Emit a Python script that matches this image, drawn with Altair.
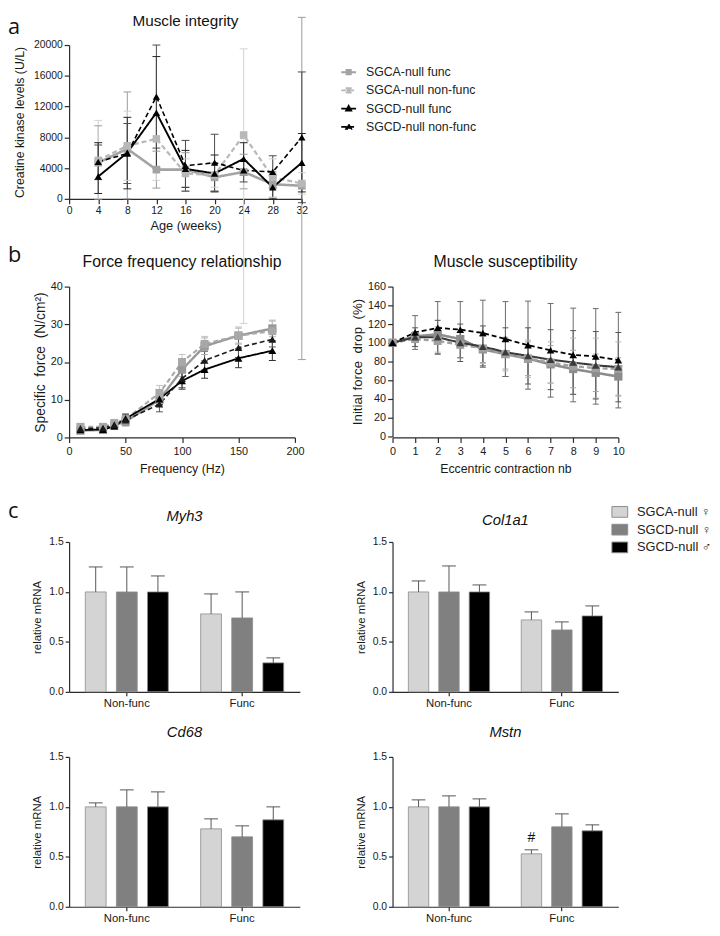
import altair as alt
import pandas as pd

FONT = "Liberation Sans"
LETTER_FONT = "Open Sans"

# ---------------- shared series ----------------
series_names = ["SGCA-null func", "SGCA-null non-func", "SGCD-null func", "SGCD-null non-func"]

# ---------------- Panel a: creatine kinase ----------------
age_weeks = [4, 8, 12, 16, 20, 24, 28, 32]
age_ticks = [0, 4, 8, 12, 16, 20, 24, 28, 32]
ck_ticks = [0, 4000, 8000, 12000, 16000, 20000]
ck_sgca_func = [4700, 6500, 3800, 3800, 2800, 3500, 1900, 1700]
ck_sgca_nonfunc = [5000, 6900, 7800, 3300, 3100, 8300, 2800, 2000]
ck_sgcd_func = [2900, 6000, 11200, 3900, 3300, 5200, 1500, 4700]
ck_sgcd_nonfunc = [4800, 5900, 13300, 4300, 4700, 3700, 3500, 8000]
ck_low_sgca_func = [0, 0, 1400, 1000, 1000, 1300, 200, -20900]
ck_high_sgca_func = [9500, 13900, 6200, 6000, 4600, 5800, 3500, 23600]
ck_low_sgca_nonfunc = [0, 2400, 2400, 1500, 1500, -16200, 200, 600]
ck_high_sgca_nonfunc = [10200, 11400, 11000, 5200, 4700, 19500, 5200, 3400]
ck_low_sgcd_func = [700, 1300, 4000, 1500, 900, 3100, 0, 900]
ck_high_sgcd_func = [7300, 10600, 18500, 6300, 5700, 7300, 3000, 8500]
ck_low_sgcd_nonfunc = [2500, 2000, 6600, 1000, 1000, 2200, 1400, -500]
ck_high_sgcd_nonfunc = [7000, 9800, 20000, 7600, 8400, 4900, 5600, 16500]

# ---------------- Panel b left: force frequency ----------------
freq_hz = [10, 30, 40, 50, 80, 100, 120, 150, 180]
freq_ticks = [0, 50, 100, 150, 200]
force_ticks = [0, 10, 20, 30, 40]
ff_sgca_func = [1.8, 2.0, 3.2, 4.2, 10.0, 18.0, 24.2, 27.0, 28.9]
ff_sgca_nonfunc = [2.8, 2.8, 3.8, 4.8, 11.8, 20.0, 24.8, 27.0, 28.2]
ff_sgcd_func = [2.0, 2.1, 3.0, 5.0, 10.2, 15.0, 18.0, 21.0, 23.0]
ff_sgcd_nonfunc = [2.4, 2.5, 3.4, 4.6, 8.8, 15.6, 20.4, 23.8, 26.0]
ff_err_sgca_func = [0.5, 0.5, 0.8, 1.2, 1.6, 1.8, 2.2, 2.0, 2.2]
ff_err_sgca_nonfunc = [0.7, 0.6, 1.0, 1.4, 2.0, 2.0, 2.0, 2.3, 2.6]
ff_err_sgcd_func = [0.4, 0.5, 0.8, 1.2, 1.5, 2.2, 2.3, 2.5, 2.6]
ff_err_sgcd_nonfunc = [0.5, 0.5, 0.9, 1.3, 2.0, 2.4, 2.5, 2.6, 2.0]

# ---------------- Panel b right: eccentric contractions ----------------
ecc_nb = [0, 1, 2, 3, 4, 5, 6, 7, 8, 9, 10]
ecc_ticks = [0, 1, 2, 3, 4, 5, 6, 7, 8, 9, 10]
drop_ticks = [0, 20, 40, 60, 80, 100, 120, 140, 160]
ec_sgca_func = [100, 107, 109, 104, 93, 88, 83, 77, 72, 68, 64]
ec_sgca_nonfunc = [100, 104, 102, 98, 94, 88, 83, 79, 75, 73, 72]
ec_sgcd_func = [100, 106, 106, 100, 96, 90, 86, 82, 79, 76, 74]
ec_sgcd_nonfunc = [100, 111, 116, 114, 110.5, 104, 97.5, 92, 87, 85.5, 81.5]
ec_err_sgca_func = [0, 5, 8, 10, 14, 16, 18, 20, 20, 20, 20]
ec_err_sgca_nonfunc = [0, 8, 12, 14, 16, 18, 20, 22, 30, 32, 29]
ec_err_sgcd_func = [0, 10, 18, 20, 22, 26, 30, 32, 34, 36, 37]
ec_err_sgcd_nonfunc = [0, 18, 28, 30, 35, 40, 47, 50, 50, 51, 51]

# ---------------- Panel c: qPCR ----------------
conditions = ["Non-func", "Func"]
groups = ["SGCA-null \u2640", "SGCD-null \u2640", "SGCD-null \u2642"]
mrna_ticks = [0.0, 0.5, 1.0, 1.5]
myh3_mean = [1.0, 1.0, 1.0, 0.78, 0.74, 0.29]
myh3_err = [0.25, 0.25, 0.16, 0.20, 0.26, 0.05]
col1a1_mean = [1.0, 1.0, 1.0, 0.72, 0.62, 0.76]
col1a1_err = [0.11, 0.26, 0.07, 0.08, 0.08, 0.10]
cd68_mean = [1.0, 1.0, 1.0, 0.78, 0.70, 0.87]
cd68_err = [0.04, 0.17, 0.15, 0.10, 0.11, 0.13]
mstn_mean = [1.0, 1.0, 1.0, 0.53, 0.80, 0.76]
mstn_err = [0.07, 0.11, 0.08, 0.04, 0.13, 0.06]
mstn_mark_cond = ["Func"]
mstn_mark_grp = ["SGCA-null \u2640"]
mstn_mark_y = [0.685]
mstn_mark_text = ["#"]

# ---------------- styles ----------------
DASHES = [[1, 0], [5, 3], [1, 0], [5, 3]]
SHAPES = ["square", "square", "triangle-up", "triangle-up"]
LEG_SHAPES = [
    "M-1,0L1,0M-0.28,-0.28L0.28,-0.28L0.28,0.28L-0.28,0.28Z",
    "M-1,0L1,0M-0.28,-0.28L0.28,-0.28L0.28,0.28L-0.28,0.28Z",
    "M-1,0L1,0M0,-0.34L0.32,0.24L-0.32,0.24Z",
    "M-1,0L1,0M0,-0.34L0.32,0.24L-0.32,0.24Z",
]
BAR_COLORS = ["#d4d4d4", "#808080", "#000000"]
RECT_PATH = "M-1,-0.68L1,-0.68L1,0.68L-1,0.68Z"


def series_frame(xname, xs, values_by_series):
    rows = []
    for s, vals in zip(series_names, values_by_series):
        for xv, v in zip(xs, vals):
            rows.append({xname: xv, "series": s, "value": v})
    return pd.DataFrame(rows)


def range_frame(xname, xs, lows_by_series, highs_by_series):
    rows = []
    for s, lows, highs in zip(series_names, lows_by_series, highs_by_series):
        for xv, lo, hi in zip(xs, lows, highs):
            rows.append({xname: xv, "series": s, "low": lo, "high": hi})
    return pd.DataFrame(rows)


def letter(ch, x, y, baseline):
    return alt.Chart(pd.DataFrame({"t": [ch]})).mark_text(
        font=LETTER_FONT, fontSize=22, align="left", baseline=baseline, color="#111111"
    ).encode(text="t:N", x=alt.value(x), y=alt.value(y))


def line_panel(xname, df, edf, xscale, xaxis, yscale, yaxis, width, height, title,
               line_colors, err_colors, widths, sizes, cap, extra=None, legend=None):
    X = alt.X(f"{xname}:Q", scale=xscale, axis=xaxis)
    ecol = alt.Color("series:N", scale=alt.Scale(domain=series_names, range=err_colors), legend=None)
    rules = alt.Chart(edf).mark_rule(strokeWidth=1).encode(
        x=X, y=alt.Y("low:Q", scale=yscale, axis=yaxis), y2="high:Q", color=ecol)
    lo = alt.Chart(edf).mark_tick(orient="horizontal", size=cap, thickness=1, opacity=1).encode(
        x=X, y=alt.Y("low:Q", scale=yscale, axis=yaxis), color=ecol)
    hi = alt.Chart(edf).mark_tick(orient="horizontal", size=cap, thickness=1, opacity=1).encode(
        x=X, y=alt.Y("high:Q", scale=yscale, axis=yaxis), color=ecol)
    lcol = alt.Color("series:N", scale=alt.Scale(domain=series_names, range=line_colors), legend=None)
    lines = alt.Chart(df).mark_line().encode(
        x=X, y=alt.Y("value:Q", scale=yscale, axis=yaxis), color=lcol,
        strokeDash=alt.StrokeDash("series:N", scale=alt.Scale(domain=series_names, range=DASHES), legend=None),
        strokeWidth=alt.StrokeWidth("series:N", scale=alt.Scale(domain=series_names, range=widths), legend=None),
    )
    pts = alt.Chart(df).mark_point(filled=True, opacity=1).encode(
        x=X, y=alt.Y("value:Q", scale=yscale, axis=yaxis), color=lcol,
        shape=alt.Shape("series:N", scale=alt.Scale(domain=series_names, range=SHAPES), legend=None),
        size=alt.Size("series:N", scale=alt.Scale(domain=series_names, range=sizes), legend=None),
    )
    layers = [rules, lo, hi, lines, pts]
    if legend is not None:
        leg = alt.Chart(df).mark_point(filled=True, opacity=1, size=0).encode(
            x=X, y=alt.Y("value:Q", scale=yscale, axis=yaxis),
            fill=alt.Fill("series:N", scale=alt.Scale(domain=series_names, range=line_colors), legend=legend),
            stroke=alt.Stroke("series:N", scale=alt.Scale(domain=series_names, range=line_colors), legend=legend),
            shape=alt.Shape("series:N", scale=alt.Scale(domain=series_names, range=LEG_SHAPES), legend=legend),
            strokeDash=alt.StrokeDash("series:N", scale=alt.Scale(domain=series_names, range=DASHES), legend=legend),
        )
        layers.append(leg)
    if extra is not None:
        layers.append(extra)
    return alt.layer(*layers).resolve_scale(
        color="independent", shape="independent", strokeDash="independent",
        strokeWidth="independent", size="independent", fill="independent", stroke="independent",
    ).properties(width=width, height=height, title=title)


def ptitle(text, offset, size=16, italic=False):
    return alt.TitleParams(text=text, font=FONT, fontSize=size, fontWeight="normal",
                           fontStyle="italic" if italic else "normal", anchor="middle",
                           frame="group", offset=offset, baseline="alphabetic", color="#111111")


# ---------- panel a ----------
df_a = series_frame("age", age_weeks, [ck_sgca_func, ck_sgca_nonfunc, ck_sgcd_func, ck_sgcd_nonfunc])
edf_a = range_frame("age", age_weeks,
                    [ck_low_sgca_func, ck_low_sgca_nonfunc, ck_low_sgcd_func, ck_low_sgcd_nonfunc],
                    [ck_high_sgca_func, ck_high_sgca_nonfunc, ck_high_sgcd_func, ck_high_sgcd_nonfunc])
legend_a = alt.Legend(title=None, orient="none", legendX=275, legendY=19, symbolSize=225,
                      symbolStrokeWidth=2, labelFont=FONT, labelFontSize=12.5, labelColor="#222222",
                      labelOffset=9, rowPadding=3.5, padding=0)
panel_a = line_panel(
    "age", df_a, edf_a,
    alt.Scale(domain=[0, 32], nice=False),
    alt.Axis(title="Age (weeks)", values=age_ticks, labelFlush=False, titlePadding=4,
             labelFontSize=10.5, titleFontSize=13),
    alt.Scale(domain=[0, 20000], nice=False),
    alt.Axis(title="Creatine kinase levels (U/L)", values=ck_ticks, format="d", titlePadding=7,
             labelFontSize=10.5, titleFontSize=12.5),
    236, 156, ptitle("Muscle integrity", -25.5, 15.5),
    ["#a3a3a3", "#b8b8b8", "#000000", "#000000"],
    ["#9a9a9a", "#d2d2d2", "#222222", "#4a4a4a"],
    [2.6, 1.6, 2.2, 2.0], [60, 55, 45, 40], 8,
    extra=letter("a", -62, -28, "top"), legend=legend_a,
)

# ---------- panel b left ----------
ff_all = [ff_sgca_func, ff_sgca_nonfunc, ff_sgcd_func, ff_sgcd_nonfunc]
ff_err_all = [ff_err_sgca_func, ff_err_sgca_nonfunc, ff_err_sgcd_func, ff_err_sgcd_nonfunc]
df_bl = series_frame("freq", freq_hz, ff_all)
edf_bl = range_frame(
    "freq", freq_hz,
    [[v - e for v, e in zip(vs, es)] for vs, es in zip(ff_all, ff_err_all)],
    [[v + e for v, e in zip(vs, es)] for vs, es in zip(ff_all, ff_err_all)],
)
panel_bl = line_panel(
    "freq", df_bl, edf_bl,
    alt.Scale(domain=[0, 200], nice=False),
    alt.Axis(title="Frequency (Hz)", values=freq_ticks, labelFlush=False, offset=-40,
             titlePadding=7, labelFontSize=11, titleFontSize=12.5, labelPadding=3),
    alt.Scale(domain=[0, 40], nice=False, range=[153, 0]),
    alt.Axis(title="Specific\u00a0\u00a0force\u00a0\u00a0(N/cm\u00b2)", values=force_ticks,
             titlePadding=3, labelFontSize=11, titleFontSize=14),
    229, 193, ptitle("Force frequency relationship", -39.5),
    ["#999999", "#a8a8a8", "#000000", "#1a1a1a"],
    ["#b0b0b0", "#c4c4c4", "#333333", "#555555"],
    [2.4, 1.6, 2.2, 1.8], [70, 60, 45, 40], 7,
    extra=letter("b", -62, -25, "alphabetic"),
)

# ---------- panel b right ----------
ec_all = [ec_sgca_func, ec_sgca_nonfunc, ec_sgcd_func, ec_sgcd_nonfunc]
ec_err_all = [ec_err_sgca_func, ec_err_sgca_nonfunc, ec_err_sgcd_func, ec_err_sgcd_nonfunc]
df_br = series_frame("ecc", ecc_nb, ec_all)
edf_br = range_frame(
    "ecc", ecc_nb,
    [[v - e for v, e in zip(vs, es)] for vs, es in zip(ec_all, ec_err_all)],
    [[v + e for v, e in zip(vs, es)] for vs, es in zip(ec_all, ec_err_all)],
)
panel_br = line_panel(
    "ecc", df_br, edf_br,
    alt.Scale(domain=[0, 10], nice=False),
    alt.Axis(title="Eccentric contraction nb", values=ecc_ticks, labelFlush=False, offset=-40,
             titlePadding=7, labelFontSize=11, titleFontSize=12.5, labelPadding=3),
    alt.Scale(domain=[0, 160], nice=False, range=[152, 0]),
    alt.Axis(title="Initial\u00a0force\u00a0\u00a0drop\u00a0\u00a0(%)", values=drop_ticks,
             titlePadding=3, labelFontSize=11, titleFontSize=13.5),
    229, 193, ptitle("Muscle susceptibility", -2),
    ["#8c8c8c", "#a0a0a0", "#3a3a3a", "#000000"],
    ["#a6a6a6", "#b4b4b4", "#555555", "#6a6a6a"],
    [2.6, 1.8, 2.2, 2.0], [70, 60, 40, 40], 6,
)


# ---------- panel c ----------
def bar_panel(means, errs, width, title, legend=None, extra=None, marks=None):
    rows = []
    i = 0
    for c in conditions:
        for g in groups:
            rows.append({"cond": c, "grp": g, "mean": means[i], "top": means[i] + errs[i]})
            i += 1
    df = pd.DataFrame(rows)
    X = alt.X("cond:N", sort=conditions, scale=alt.Scale(domain=conditions, paddingInner=0, paddingOuter=0),
              axis=alt.Axis(title=None, labelAngle=0, tickSize=4, labelPadding=2, labelFontSize=11.5))
    XO = alt.XOffset("grp:N", sort=groups,
                     scale=alt.Scale(domain=groups, paddingInner=0.33, paddingOuter=0.52))
    yscale = alt.Scale(domain=[0, 1.5], nice=False)
    yaxis = alt.Axis(title="relative mRNA", values=mrna_ticks, format=".1f", titlePadding=6,
                     tickSize=4, labelPadding=2, labelFontSize=10.5, titleFontSize=11.5)
    bars = alt.Chart(df).mark_bar(stroke="#8c8c8c", strokeWidth=0.8).encode(
        x=X, xOffset=XO, y=alt.Y("mean:Q", scale=yscale, axis=yaxis),
        color=alt.Color("grp:N", sort=groups, scale=alt.Scale(domain=groups, range=BAR_COLORS),
                        legend=legend),
    )
    rule = alt.Chart(df).mark_rule(color="#555555", strokeWidth=1).encode(
        x=X, xOffset=XO, y=alt.Y("mean:Q", scale=yscale, axis=yaxis), y2="top:Q")
    cap = alt.Chart(df).mark_tick(orient="horizontal", size=14, thickness=1, color="#555555",
                                  opacity=1).encode(
        x=X, xOffset=XO, y=alt.Y("top:Q", scale=yscale, axis=yaxis))
    layers = [bars, rule, cap]
    if marks is not None:
        mdf = pd.DataFrame({"cond": marks[0], "grp": marks[1], "ypos": marks[2], "txt": marks[3]})
        layers.append(alt.Chart(mdf).mark_text(font=FONT, fontSize=14, color="#111111",
                                               baseline="middle").encode(
            x=X, xOffset=XO, y=alt.Y("ypos:Q", scale=yscale, axis=yaxis), text="txt:N"))
    if extra is not None:
        layers.append(extra)
    return alt.layer(*layers).properties(width=width, height=152, title=title)


legend_c = alt.Legend(title=None, orient="none", legendX=222, legendY=-39, symbolType=RECT_PATH,
                      symbolSize=256, symbolStrokeWidth=1, labelFont=FONT, labelFontSize=13,
                      labelColor="#222222", labelOffset=9, rowPadding=2, padding=0)

myh3 = bar_panel(myh3_mean, myh3_err, 234, ptitle("Myh3", -36, 15, True),
                 extra=letter("c", -62, -24, "alphabetic"))
col1a1 = bar_panel(col1a1_mean, col1a1_err, 229, ptitle("Col1a1", -36.5, 15, True), legend=legend_c)
cd68 = bar_panel(cd68_mean, cd68_err, 234, ptitle("Cd68", 0, 15, True))
mstn = bar_panel(mstn_mean, mstn_err, 229, ptitle("Mstn", 0, 15, True),
                 marks=(mstn_mark_cond, mstn_mark_grp, mstn_mark_y, mstn_mark_text))

spacer = alt.Chart(pd.DataFrame({"v": [0]})).mark_point(opacity=0).encode(
    x=alt.value(0), y=alt.value(0)).properties(width=229, height=179)

chart = alt.concat(
    panel_a, spacer, panel_bl, panel_br, myh3, col1a1, cd68, mstn,
    columns=2, spacing={"row": 66, "column": 92}, bounds="flush", align="each", padding=0,
).resolve_scale(
    x="independent", y="independent", color="independent", fill="independent",
    stroke="independent", shape="independent", strokeDash="independent",
    strokeWidth="independent", size="independent", xOffset="independent",
).configure(font=FONT).configure_view(stroke=None).configure_axis(
    domainColor="#2a2a2a", tickColor="#2a2a2a", labelColor="#1a1a1a", titleColor="#1a1a1a",
    grid=False, labelFont=FONT, titleFont=FONT, titleFontWeight="normal", tickSize=5,
    domainWidth=1.2, tickWidth=1.2, labelPadding=2,
)

chart.save("out.html", embed_options={"renderer": "svg", "actions": False})
